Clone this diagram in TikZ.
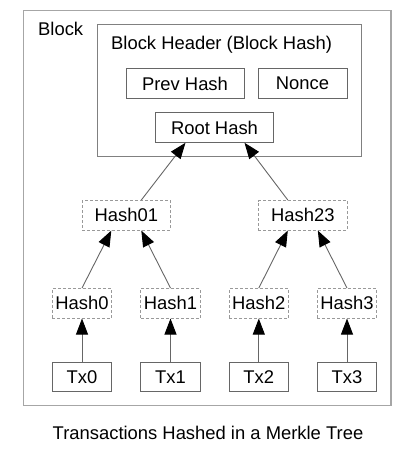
\documentclass[tikz,border=0pt]{standalone}
\usepackage{fontspec}
\setmainfont{Liberation Sans}
\usetikzlibrary{arrows.meta}

\begin{document}
\begin{tikzpicture}[x=1bp,y=-1bp,
        every node/.style={font=\fontsize{18.4bp}{22bp}\selectfont, inner sep=0pt},
        txbox/.style={draw=black!60, line width=1bp, minimum width=59.5bp, minimum height=29bp},
        hdrbox/.style={draw=black!60, line width=1bp, minimum height=29.5bp},
        hashbox/.style={draw=black!40, line width=1bp, dash pattern=on 3bp off 2bp, minimum height=29.5bp},
        link/.style={draw=black!60, line width=0.9bp, -{Triangle[length=16bp,width=12bp,black]}}]
        \useasboundingbox (0,0) rectangle (416,462);
        % frames
        \draw[black!35, line width=1.5bp] (23.5,10.5) rectangle (391,405.5);
        \draw[black!50, line width=1bp]   (97,25)     rectangle (361,157);
        \node[anchor=base west] (blocktitle)  at (38,36)  {Block};
        \node[anchor=base west] (headertitle) at (111,50) {Block Header (Block Hash)};
        % header fields
        \node[hdrbox, minimum width=118bp] (prev)  at (185,83.5)   {Prev Hash};
        \node[hdrbox, minimum width=89bp]  (nonce) at (302.5,83.5) {Nonce};
        \node[hdrbox, minimum width=118bp] (root)  at (214.5,127.5) {Root Hash};
        % merkle tree
        \node[hashbox, minimum width=88bp] (hash01) at (126.3,215.3) {Hash01};
        \node[hashbox, minimum width=89bp] (hash23) at (302.8,215.3) {Hash23};
        \node[hashbox, minimum width=59.5bp] (hash0) at (82,303.3)    {Hash0};
        \node[hashbox, minimum width=59.5bp] (hash1) at (170.5,303.3) {Hash1};
        \node[hashbox, minimum width=59.5bp] (hash2) at (258.8,303.3) {Hash2};
        \node[hashbox, minimum width=59.5bp] (hash3) at (347,303.3)   {Hash3};
        \node[txbox] (tx0) at (82,376.7)    {Tx0};
        \node[txbox] (tx1) at (170.5,376.7) {Tx1};
        \node[txbox] (tx2) at (258.8,376.7) {Tx2};
        \node[txbox] (tx3) at (347,376.7)   {Tx3};
        % hashing links
        \draw[link] (tx0) -- (hash0);
        \draw[link] (tx1) -- (hash1);
        \draw[link] (tx2) -- (hash2);
        \draw[link] (tx3) -- (hash3);
        \draw[link] (hash0.north) -- ([xshift=-15bp]hash01.south);
        \draw[link] (hash1.north) -- ([xshift=15bp]hash01.south);
        \draw[link] (hash2.north) -- ([xshift=-15bp]hash23.south);
        \draw[link] (hash3.north) -- ([xshift=15bp]hash23.south);
        \draw[link] ([xshift=15bp]hash01.north)  -- ([xshift=-29bp]root.south);
        \draw[link] ([xshift=-15bp]hash23.north) -- ([xshift=30bp]root.south);
        % caption
        \node (caption) at (208,433) {Transactions Hashed in a Merkle Tree};
    \end{tikzpicture}
\end{document}
